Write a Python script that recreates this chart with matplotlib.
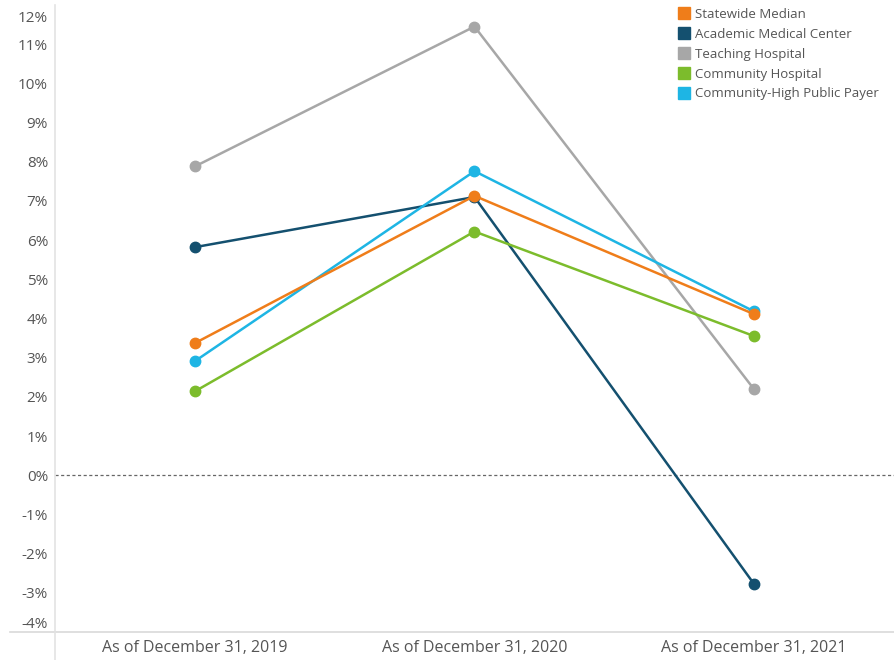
import matplotlib
matplotlib.use("Agg")
import matplotlib.pyplot as plt
from matplotlib.lines import Line2D
from matplotlib.transforms import ScaledTranslation

plt.rcParams['font.family'] = ['Open Sans', 'DejaVu Sans']

categories = ["As of December 31, 2019", "As of December 31, 2020", "As of December 31, 2021"]
series_names = ["Statewide Median", "Academic Medical Center", "Teaching Hospital",
                "Community Hospital", "Community-High Public Payer"]
statewide_median = [3.37, 7.13, 4.11]
academic_medical_center = [5.82, 7.10, -2.78]
teaching_hospital = [7.88, 11.45, 2.19]
community_hospital = [2.14, 6.22, 3.55]
community_high_public_payer = [2.91, 7.76, 4.18]
y_ticks = list(range(-4, 13))

colors = ["#EF7D1A", "#14506F", "#A7A7A7", "#7CBC2C", "#1EB5E4"]
values = [statewide_median, academic_medical_center, teaching_hospital,
          community_hospital, community_high_public_payer]

fig = plt.figure(figsize=(8.94, 6.6), dpi=100)
ax = fig.add_axes([55 / 894, 28 / 660, 839 / 894, 627 / 660])

x = list(range(len(categories)))
# draw in back-to-front order so the median sits above the others
draw_order = [2, 1, 3, 4, 0]
for i in draw_order:
    ax.plot(x, values[i], color=colors[i], lw=1.8, marker='o', ms=7.5,
            solid_capstyle='round', zorder=3 + draw_order.index(i))

ax.axhline(0, color="#666666", lw=0.9, ls=(0, (2.5, 2)), zorder=2)

ax.set_xlim(-0.5, 2.5)
ax.set_ylim(-4, 12)
ax.set_yticks(y_ticks)
ax.set_yticklabels([f"{t}%" for t in y_ticks])
ax.set_xticks(x)
ax.set_xticklabels(categories)
ax.tick_params(axis='y', length=0, colors="#555555", labelsize=11, pad=5)
ax.tick_params(axis='x', length=0, colors="#555555", labelsize=11.5, pad=6)

# keep the end labels inside the plotting area
for lbl, t in zip(ax.get_yticklabels(), y_ticks):
    if t == max(y_ticks):
        lbl.set_va('top')
        lbl.set_transform(lbl.get_transform() +
                          ScaledTranslation(0, -0.06, fig.dpi_scale_trans))
    elif t == min(y_ticks):
        lbl.set_va('bottom')

for s in ['top', 'right', 'bottom']:
    ax.spines[s].set_visible(False)
ax.spines['left'].set_color("#E3E3E3")
ax.spines['left'].set_linewidth(1.2)

# frame lines extending beyond the plotting area
fig.add_artist(Line2D([10 / 894, 1.0], [28 / 660, 28 / 660], color="#D9D9D9", lw=1.2))
fig.add_artist(Line2D([55 / 894, 55 / 894], [0, 28 / 660], color="#E3E3E3", lw=1.2))

handles = [Line2D([], [], ls='none', marker='s', ms=9, color=c) for c in colors]
leg = ax.legend(handles, series_names, loc='upper right',
                bbox_to_anchor=(878 / 894 + 0.001, 1.0 - 8 / 660),
                bbox_transform=fig.transFigure,
                frameon=False, fontsize=9.5, handletextpad=0.3, labelspacing=0.52,
                borderaxespad=0.0, borderpad=0.0, handlelength=1.0)
for t in leg.get_texts():
    t.set_color("#555555")

fig.savefig("out.png", dpi=100, facecolor="white")
